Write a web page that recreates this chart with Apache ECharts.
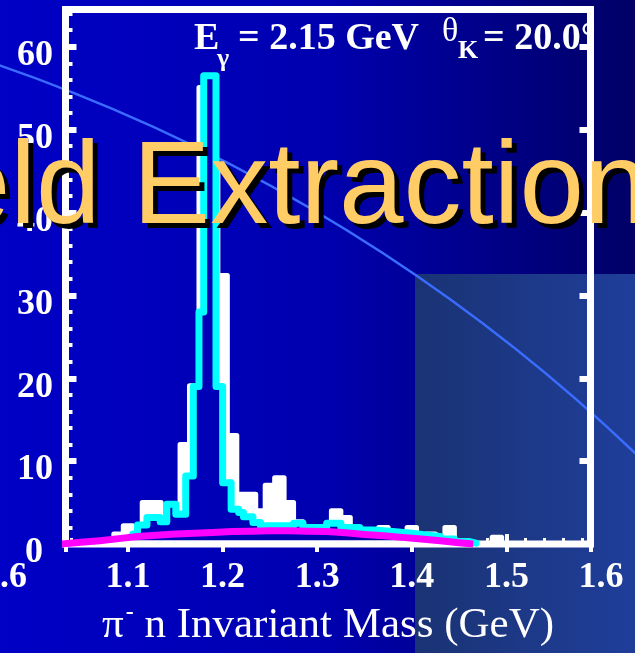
<!DOCTYPE html>
<html><head><meta charset="utf-8">
<script src="https://cdn.jsdelivr.net/npm/echarts@6/dist/echarts.min.js"></script>
<style>html,body{margin:0;padding:0;background:#0000b8;overflow:hidden}#c{width:635px;height:653px}</style>
</head><body><div id="c"></div>
<script>
// ---- data ----
const xTickLabels = ['1.1', '1.2', '1.3', '1.4', '1.5', '1.6'];
const yTickLabels = ['0', '10', '20', '30', '40', '50', '60'];

// white histogram: bin centres (GeV) and counts, bin width 0.01 GeV
const histCenters = [1.04,1.05,1.06,1.07,1.08,1.09,1.10,1.11,1.12,1.13,1.14,1.15,1.16,1.17,1.18,1.19,1.20,1.21,1.22,1.23,1.24,1.25,1.26,1.27,1.28,1.29,1.30,1.31,1.32,1.33,1.34,1.35,1.36,1.37,1.38,1.39,1.40,1.41,1.42,1.43,1.44,1.45,1.46,1.47,1.48,1.49,1.50,1.51,1.52,1.53,1.54,1.55,1.56,1.57,1.58];
const histCounts  = [0,0,0,0,0.5,1.2,2.2,1.8,5.0,5.0,3.2,2.7,12.0,19.1,55.1,45.0,32.4,13.1,6.0,6.0,4.0,7.1,8.0,5.0,2.7,1.6,1.6,1.4,4.0,3.2,1.5,1.0,1.3,2.0,1.2,0.8,2.0,0.8,1.2,0.8,2.0,0.4,0,0,0,0.8,0,0,0,0,0,0,0,0,0];

// cyan fit (step starts in GeV and level)
const fitMass   = [1.105,1.11,1.12,1.134,1.141,1.1505,1.161,1.169,1.175,1.18,1.193,1.2,1.209,1.217,1.222,1.232,1.24,1.275,1.285,1.31,1.325,1.345,1.36,1.38,1.40,1.415,1.43,1.445,1.46,1.468];
const fitValues = [1.2,2.3,3.2,2.7,4.8,3.6,8.2,19.0,28.0,56.5,19.0,7.4,4.2,3.8,3.3,2.6,2.2,2.5,2.0,2.5,2.0,1.7,1.5,1.3,1.1,0.9,0.6,0.3,0.1,0.1];

// magenta background curve
const bgMass   = [1.03,1.05,1.07,1.09,1.11,1.13,1.15,1.17,1.19,1.21,1.23,1.25,1.27,1.29,1.31,1.33,1.35,1.37,1.39,1.41,1.43,1.45,1.465];
const bgValues = [0,0.2,0.4,0.65,0.9,1.05,1.2,1.3,1.4,1.5,1.55,1.6,1.6,1.55,1.5,1.35,1.15,1.0,0.8,0.6,0.4,0.15,0];

// ---- build ----
const serif = '"Liberation Serif","Times New Roman",serif';
const sans = '"Liberation Sans",Arial,sans-serif';
const W = '#ffffff';

const histLine = histCenters.map((c, i) => [c - 0.005, histCounts[i]]);
histLine.push([histCenters[histCenters.length - 1] + 0.005, histCounts[histCounts.length - 1]]);
const fitLine = fitMass.map((m, i) => [m, fitValues[i]]);
const bgLine = bgMass.map((m, i) => [m, bgValues[i]]);

// slide background colours (also used to paint the area under the fit)
const bgStops = [{offset: 0, color: '#0000c6'}, {offset: 0.5, color: '#0000b0'}, {offset: 1, color: '#000066'}];
const fitFill = new echarts.graphic.LinearGradient(0, 0, 635, 0, [
  {offset: 0, color: '#0000c6'}, {offset: 0.5, color: '#0000b0'}, {offset: 0.6535, color: '#000099'},
  {offset: 0.6536, color: '#1a3374'}, {offset: 1, color: '#1f3e9a'}], true);

const chart = echarts.init(document.getElementById('c'), null, {renderer: 'canvas', width: 635, height: 653});

const labelFont = {color: W, fontFamily: serif, fontWeight: 'bold', fontSize: 36};

const option = {
  animation: false,
  backgroundColor: {type: 'linear', x: 0, y: 0, x2: 1, y2: 0, colorStops: bgStops},
  grid: [
    {left: 65.5, top: 9.5, width: 525, height: 534.5, show: true, borderColor: W, borderWidth: 7, backgroundColor: 'transparent'},
    {left: 33.4, top: 9.5, width: 567.6, height: 534.5, show: false}
  ],
  xAxis: [
    {gridIndex: 0, type: 'value', min: 1.0339, max: 1.5889, position: 'bottom',
     axisLine: {show: false}, splitLine: {show: false}, axisLabel: {show: false},
     axisTick: {show: true, inside: true, length: 10, lineStyle: {color: W, width: 4}},
     minorTick: {show: true, splitNumber: 5, length: 6, lineStyle: {color: W, width: 3}},
     name: '{p|π}{m|-}{t| n Invariant Mass (GeV)}', nameLocation: 'middle', nameGap: 56.5,
     nameTextStyle: {color: W, fontFamily: serif, fontSize: 43,
       rich: {p: {color: W, fontFamily: serif, fontSize: 43},
              m: {color: W, fontFamily: serif, fontWeight: 'bold', fontSize: 24, padding: [0, 0, 26, 2]},
              t: {color: W, fontFamily: serif, fontSize: 43}}}},
    {gridIndex: 0, type: 'value', min: 1.0339, max: 1.5889, position: 'top',
     axisLine: {show: false}, splitLine: {show: false}, axisLabel: {show: false},
     axisTick: {show: true, inside: true, length: 8, lineStyle: {color: W, width: 4}},
     minorTick: {show: false}},
    {gridIndex: 1, type: 'value', min: 1.0, max: 1.6, interval: 0.1, position: 'bottom',
     axisLine: {show: false}, axisTick: {show: false}, splitLine: {show: false},
     axisLabel: Object.assign({margin: 16, showMinLabel: true, showMaxLabel: true,
       formatter: v => { const s = v.toFixed(1); return xTickLabels.includes(s) ? s : ''; }}, labelFont)}
  ],
  yAxis: [
    {gridIndex: 0, type: 'value', min: 0, max: 64.5, interval: 10, position: 'left',
     axisLine: {show: false}, splitLine: {show: false},
     axisTick: {show: true, inside: true, length: 11, lineStyle: {color: W, width: 6}},
     minorTick: {show: true, splitNumber: 5, length: 7, lineStyle: {color: W, width: 4}},
     axisLabel: Object.assign({margin: 12.5, padding: [18, 0, 0, 0], showMaxLabel: false,
       formatter: v => { const s = String(Math.round(v * 10) / 10); if (!yTickLabels.includes(s)) return ''; return s === '0' ? '{z|0}' : s; },
       rich: {z: {color: W, fontFamily: serif, fontWeight: 'bold', fontSize: 36, padding: [0, 10, 0, 0]}}}, labelFont)},
    {gridIndex: 0, type: 'value', min: 0, max: 64.5, interval: 10, position: 'right',
     axisLine: {show: false}, splitLine: {show: false}, axisLabel: {show: false},
     axisTick: {show: true, inside: true, length: 11, lineStyle: {color: W, width: 6}}},
    {gridIndex: 1, type: 'value', min: 0, max: 64.5, show: false}
  ],
  series: [
    {type: 'line', name: 'data', xAxisIndex: 0, yAxisIndex: 0, data: histLine, step: 'end', symbol: 'none', z: 3,
     lineStyle: {color: W, width: 5, join: 'round', cap: 'round'},
     areaStyle: {color: W, opacity: 1}},
    {type: 'line', name: 'fit', xAxisIndex: 0, yAxisIndex: 0, data: fitLine, step: 'end', symbol: 'none', z: 4,
     lineStyle: {color: '#00ffff', width: 7, join: 'round', cap: 'round'},
     areaStyle: {color: fitFill, opacity: 1, origin: 0.45}},
    {type: 'line', name: 'background', xAxisIndex: 0, yAxisIndex: 0, data: bgLine, symbol: 'none', z: 5,
     lineStyle: {color: '#ff00ff', width: 7, join: 'round', cap: 'butt'}}
  ],
  graphic: [
    {type: 'rect', z: -3, shape: {x: 415, y: 274, width: 220, height: 379},
     style: {fill: new echarts.graphic.LinearGradient(0, 0, 1, 0, [{offset: 0, color: '#1a3374'}, {offset: 1, color: '#1f3e9a'}])}},
    {type: 'circle', z: -2, shape: {cx: -569, cy: 1712, r: 1742}, style: {fill: 'none', stroke: '#3a6cff', lineWidth: 2.5}},
    {type: 'text', z: -1, x: 194, y: 39, style: {text: 'E', font: 'bold 38px ' + serif, fill: W, align: 'left', verticalAlign: 'middle'}},
    {type: 'text', z: -1, x: 217, y: 59, style: {text: 'γ', font: 'bold 26px ' + serif, fill: W, align: 'left', verticalAlign: 'middle'}},
    {type: 'text', z: -1, x: 238, y: 39, style: {text: '= 2.15 GeV', font: 'bold 38px ' + serif, fill: W, align: 'left', verticalAlign: 'middle'}},
    {type: 'text', z: -1, x: 442, y: 32.5, style: {text: 'θ', font: '34px ' + serif, fill: W, align: 'left', verticalAlign: 'middle'}},
    {type: 'text', z: -1, x: 458, y: 51, style: {text: 'K', font: 'bold 26px ' + serif, fill: W, align: 'left', verticalAlign: 'middle'}},
    {type: 'text', z: -1, x: 483, y: 39, style: {text: '= 20.0°', font: 'bold 38px ' + serif, fill: W, align: 'left', verticalAlign: 'middle'}},
    {type: 'text', z: -1, x: 27, y: 578, style: {text: '1.6', font: 'bold 36px ' + serif, fill: W, align: 'right', verticalAlign: 'middle'}},
    {type: 'text', z: 100, x: -148, y: 196.5, style: {text: 'Yield Extraction', font: '116px ' + sans, fill: '#000000', align: 'left', verticalAlign: 'middle'}},
    {type: 'text', z: 101, x: -153, y: 191.5, style: {text: 'Yield Extraction', font: '116px ' + sans, fill: '#ffcc66', align: 'left', verticalAlign: 'middle'}}
  ]
};
chart.setOption(option);
</script>
</body></html>
